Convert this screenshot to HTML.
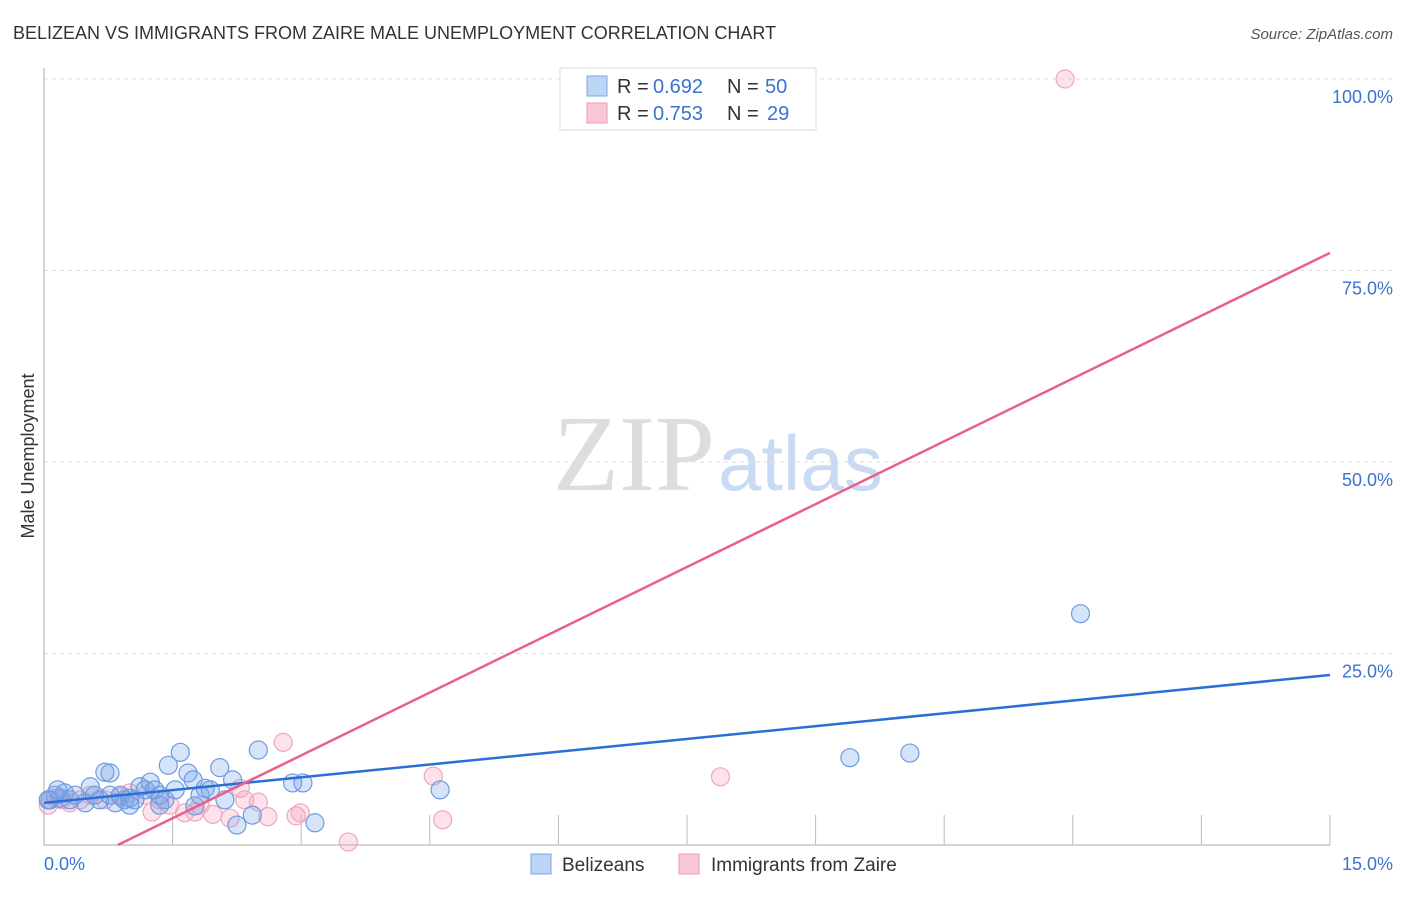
<!DOCTYPE html>
<html><head><meta charset="utf-8"><style>
body{margin:0;background:#fff;font-family:"Liberation Sans",sans-serif;}
</style></head><body>
<svg width="1406" height="892" viewBox="0 0 1406 892" xmlns="http://www.w3.org/2000/svg">
<text x="13" y="39" font-size="18" fill="#333">BELIZEAN VS IMMIGRANTS FROM ZAIRE MALE UNEMPLOYMENT CORRELATION CHART</text>
<text x="1393" y="39" font-size="15" fill="#555" font-style="italic" text-anchor="end">Source: ZipAtlas.com</text>
<text x="715" y="490" font-size="108" fill="#ddd" text-anchor="end" font-family="Liberation Serif,serif">ZIP</text>
<text x="718" y="490" font-size="78" fill="#c9daf2">atlas</text>
<text transform="translate(34,456) rotate(-90)" font-size="18" fill="#333" text-anchor="middle">Male Unemployment</text>
<g id="grid"></g>
<g id="pts"></g>
<g id="lines"></g>
<g id="labels"></g>
<g>
<rect x="560" y="68" width="256" height="62" fill="#fff" stroke="#ddd"/>
<rect x="587" y="76" width="20" height="20" fill="#bcd4f5" stroke="#7ba6e6"/>
<text x="617" y="93" font-size="20" fill="#333">R =</text>
<text x="653" y="93" font-size="20" fill="#3a73d0">0.692</text>
<text x="727" y="93" font-size="20" fill="#333">N =</text>
<text x="765" y="93" font-size="20" fill="#3a73d0">50</text>
<rect x="587" y="103" width="20" height="20" fill="#f9c8d6" stroke="#ee9ab4"/>
<text x="617" y="120" font-size="20" fill="#333">R =</text>
<text x="653" y="120" font-size="20" fill="#3a73d0">0.753</text>
<text x="727" y="120" font-size="20" fill="#333">N =</text>
<text x="767" y="120" font-size="20" fill="#3a73d0">29</text>
</g>
<g>
<rect x="531" y="854" width="20" height="20" fill="#bcd4f5" stroke="#7ba6e6"/>
<text x="562" y="871" font-size="19" fill="#333">Belizeans</text>
<rect x="679" y="854" width="20" height="20" fill="#f9c8d6" stroke="#ee9ab4"/>
<text x="711" y="871" font-size="19" fill="#333">Immigrants from Zaire</text>
</g>
</svg>
<script>
const blueX=[0.07,0.13,0.19,0.24,0.30,0.36,0.48,0.54,0.59,0.65,0.71,0.77,0.83,0.89,0.94,1.00,1.06,1.12,1.18,1.24,1.29,1.35,1.41,1.45,1.53,1.59,1.68,1.74,1.82,1.88,1.94,2.05,2.11,2.20,2.25,2.43,2.50,2.90,3.02,3.16,4.62,9.40,10.10,12.09,0.05,0.16,0.77,1.00,1.35,1.76];
const blueY=[5.9,6.5,6.1,6.8,5.9,6.5,5.5,7.6,6.5,5.9,9.5,9.4,5.5,6.5,5.9,5.2,5.9,7.6,7.2,8.2,7.2,6.5,5.9,10.4,7.2,12.1,9.4,8.5,6.5,7.4,7.2,10.1,5.9,8.5,2.6,3.9,12.4,8.1,8.1,2.9,7.2,11.4,12.0,30.2,5.9,7.2,6.5,6.1,5.2,5.1];
const pinkX=[0.05,0.13,0.21,0.30,0.42,0.54,0.71,0.89,1.00,1.18,1.26,1.35,1.47,1.64,1.76,1.82,1.97,2.17,2.29,2.34,2.50,2.61,2.79,2.94,2.99,3.55,4.54,4.65,7.89,11.91];
const pinkY=[5.2,6.1,5.9,5.5,5.9,6.5,5.9,6.3,6.8,6.5,4.3,5.9,5.2,4.2,4.3,5.2,4.0,3.5,7.4,5.9,5.6,3.7,13.4,3.8,4.2,0.4,9.0,3.3,8.9,100];
const blueLine=[[0,5.5],[15,22.2]];
const pinkLine=[[0.86,0],[15,77.3]];
const yTicks=[25,50,75,100];
const yTickLabels=["25.0%","50.0%","75.0%","100.0%"];
const xTicks=[1.5,3,4.5,6,7.5,9,10.5,12,13.5,15];
const NS='http://www.w3.org/2000/svg';
const X=v=>44+v/15*1286, Y=v=>845-v*7.66;
function mk(t,a,p){const e=document.createElementNS(NS,t);for(const k in a)e.setAttribute(k,a[k]);p.appendChild(e);return e;}
const grid=document.getElementById('grid');
yTicks.forEach((t,i)=>{
  const l=mk('line',{x1:44,x2:1393,y1:Y(t),y2:Y(t),stroke:'#ddd','stroke-dasharray':'4,4'},grid);
  
  
  const tx=mk('text',{x:1393,y:Y(t)+24,'font-size':18,fill:'#3a73d0','text-anchor':'end'},document.getElementById('labels'));
  tx.textContent=yTickLabels[i];
  
  
});
const ax=mk('path',{d:'M44 68V845H1330',stroke:'#aaa',fill:'none'},grid);


xTicks.forEach(t=>{
  const l=mk('line',{x1:X(t),x2:X(t),y1:815,y2:845,stroke:'#bbb'},grid);
  
  
});
const lb=document.getElementById('labels');
const x0=mk('text',{x:44,y:870,'font-size':18,fill:'#3a73d0'},lb);x0.textContent='0.0%';


const x1=mk('text',{x:1393,y:870,'font-size':18,fill:'#3a73d0','text-anchor':'end'},lb);x1.textContent='15.0%';


const pts=document.getElementById('pts');
pinkX.forEach((x,i)=>{
  const c=mk('circle',{cx:X(x),cy:Y(pinkY[i]),r:9,fill:'rgba(244,160,188,0.3)',stroke:'#f0a6be','stroke-width':1.2},pts);
  
  
});
blueX.forEach((x,i)=>{
  const c=mk('circle',{cx:X(x),cy:Y(blueY[i]),r:9,fill:'rgba(120,165,235,0.3)',stroke:'#6e9be0','stroke-width':1.2},pts);
  
  
});
const ln=document.getElementById('lines');
const bl=mk('line',{x1:X(blueLine[0][0]),y1:Y(blueLine[0][1]),x2:X(blueLine[1][0]),y2:Y(blueLine[1][1]),stroke:'#2a6fd6','stroke-width':2.5},ln);


const pl=mk('line',{x1:X(pinkLine[0][0]),y1:Y(pinkLine[0][1]),x2:X(pinkLine[1][0]),y2:Y(pinkLine[1][1]),stroke:'#e8608c','stroke-width':2.5},ln);


</script>
</body></html>
